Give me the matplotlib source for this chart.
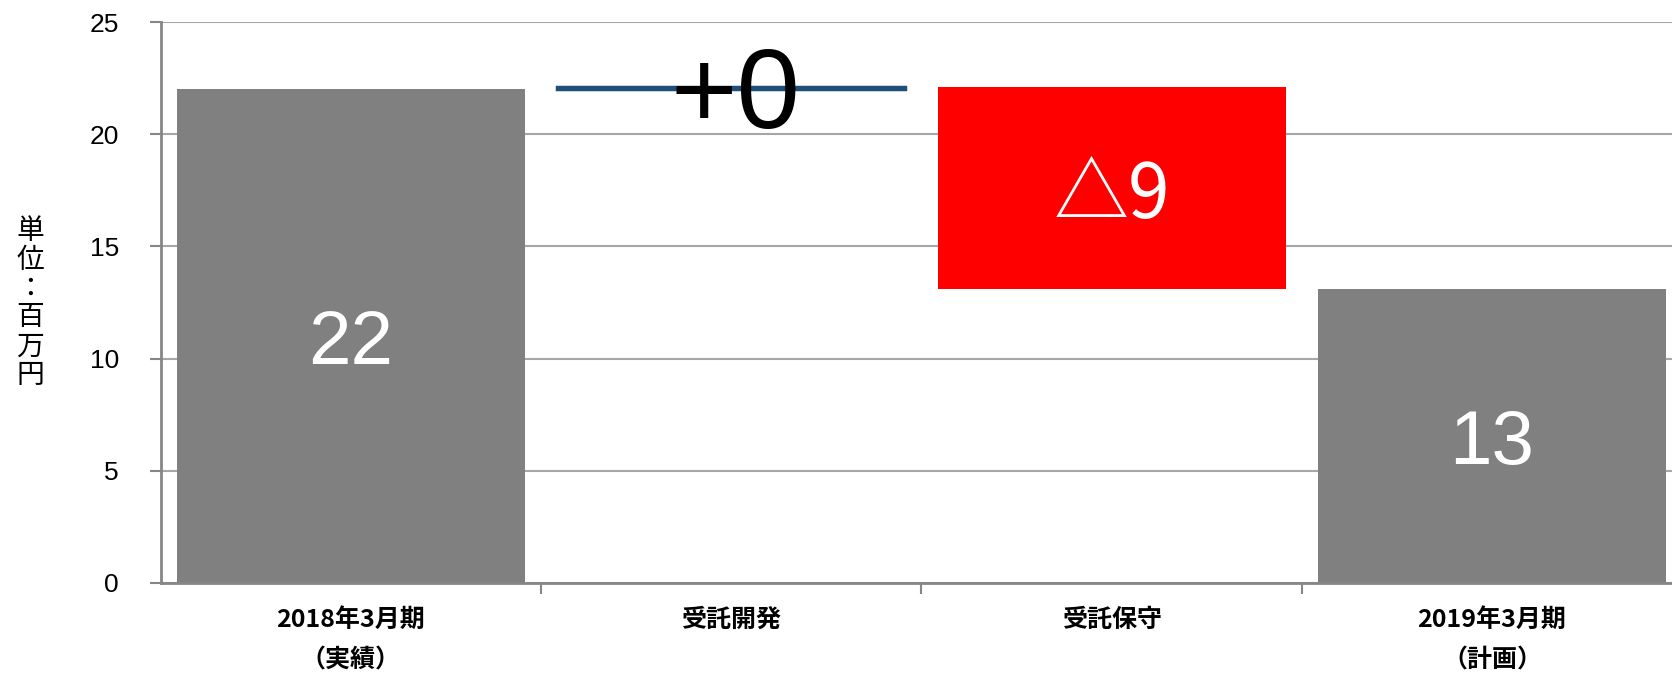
import matplotlib
matplotlib.use('Agg')
import matplotlib.pyplot as plt

# データ（単位：百万円）
categories = ['2018年3月期\n（実績）', '受託開発', '受託保守', '2019年3月期\n（計画）']
start_value = 22.0
changes = [0.1, -9.0]
end_value = 13.1
value_labels = ['22', '+0', '△9', '13']
y_ticks = [0, 5, 10, 15, 20, 25]

jp = 'Noto Sans CJK JP'
num = 'Liberation Sans'
plt.rcParams['font.family'] = [jp, 'DejaVu Sans']

# ウォーターフォールの位置を計算
bottoms = [0]
heights = [start_value]
level = start_value
for c in changes:
    if c >= 0:
        bottoms.append(level)
        heights.append(c)
    else:
        bottoms.append(level + c)
        heights.append(-c)
    level += c
bottoms.append(0)
heights.append(end_value)

colors = ['#808080', '#1F4E79', '#FF0000', '#808080']

fig = plt.figure(figsize=(16.72, 6.79), dpi=100)
ax = fig.add_axes([160.6 / 1672, 1 - 583 / 679, 4 * 380.4 / 1672, 561 / 679])

x = list(range(len(categories)))
ax.set_axisbelow(True)
ax.yaxis.grid(True, color='#A6A6A6', linewidth=1.5)
for i in x:
    if i == 1:
        ax.bar(i, heights[i], bottom=bottoms[i], width=0.915, color=colors[i],
               edgecolor=colors[i], linewidth=2.5)
    else:
        ax.bar(i, heights[i], bottom=bottoms[i], width=0.915, color=colors[i], linewidth=0)

# 値ラベル
ax.text(0, heights[0] / 2, value_labels[0], color='white', fontsize=55, family=num,
        ha='center', va='center_baseline')
ax.text(1.01, bottoms[1] + heights[1] / 2 + 0.05, value_labels[1], color='black', fontsize=82,
        family=num, ha='center', va='center_baseline')
ax.text(2, bottoms[2] + heights[2] / 2, value_labels[2], color='white', fontsize=54, family=jp,
        ha='center', va='center_baseline')
ax.text(3, heights[3] / 2, value_labels[3], color='white', fontsize=55, family=num,
        ha='center', va='center_baseline')

ax.set_xlim(-0.5, 3.5)
ax.set_ylim(0, 25)
ax.set_yticks(y_ticks)
ax.set_yticklabels([str(t) for t in y_ticks], fontsize=19, family=num)
ax.tick_params(axis='y', length=8, width=1.5, color='#868686', pad=22)

ax.set_xticks(x)
ax.set_xticklabels(categories, fontsize=18, fontweight='bold', linespacing=1.85)
ax.set_xticks([0.5, 1.5, 2.5], minor=True)
ax.tick_params(axis='x', which='major', length=0, pad=18)
ax.tick_params(axis='x', which='minor', length=8, width=1.5, color='#868686')

for s in ['top', 'right']:
    ax.spines[s].set_visible(False)
for s in ['left', 'bottom']:
    ax.spines[s].set_color('#868686')
    ax.spines[s].set_linewidth(2)

fig.text(30 / 1672, 1 - 303 / 679, '単\n位\n：\n百\n万\n円', fontsize=20, ha='center', va='center',
         linespacing=0.95)

plt.savefig('out.png', dpi=100)
